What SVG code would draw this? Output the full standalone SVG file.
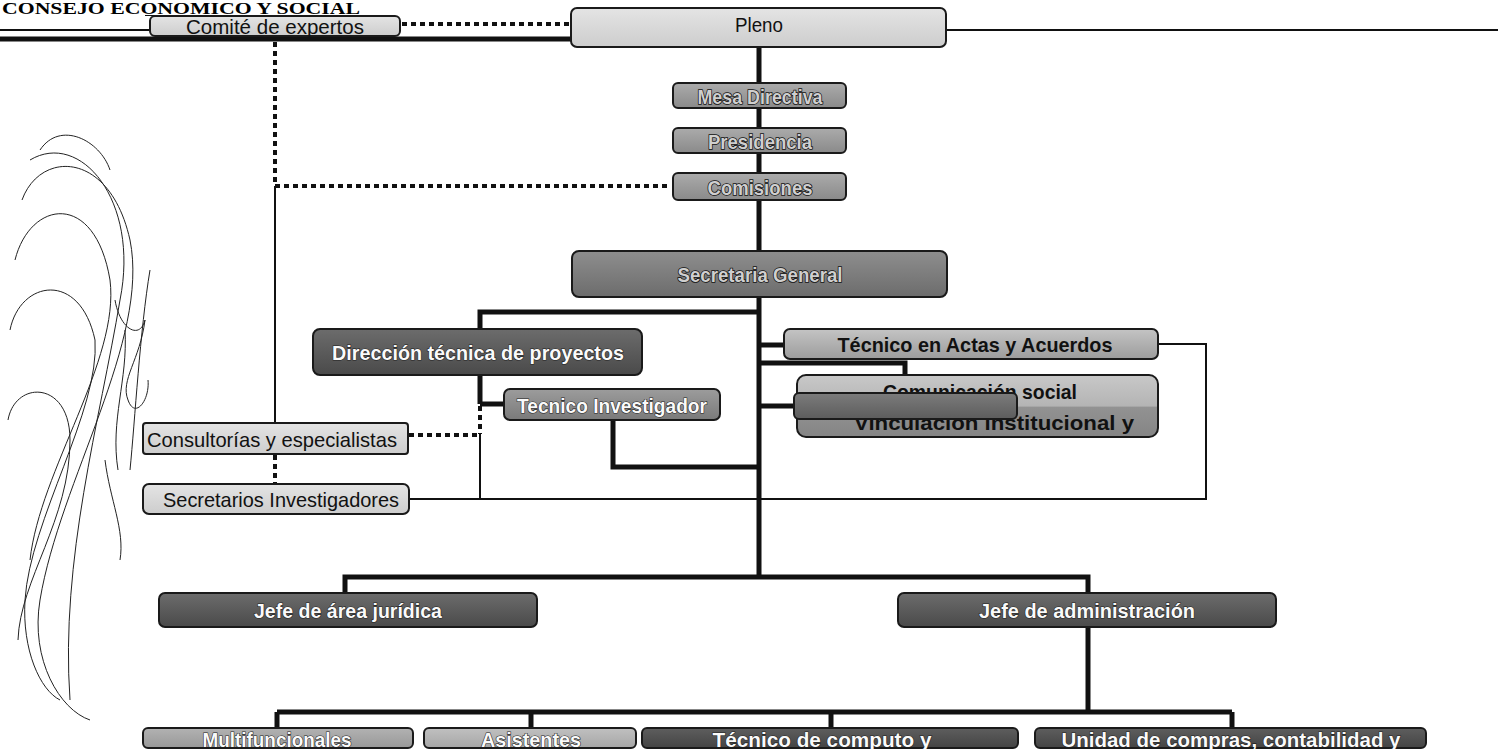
<svg xmlns="http://www.w3.org/2000/svg" width="1498" height="749" viewBox="0 0 1498 749">
<defs>
<linearGradient id="gLight" x1="0" y1="0" x2="0" y2="1"><stop offset="0" stop-color="#e4e4e4"/><stop offset="1" stop-color="#cdcdcd"/></linearGradient>
<linearGradient id="gMid" x1="0" y1="0" x2="0" y2="1"><stop offset="0" stop-color="#ababab"/><stop offset="1" stop-color="#8a8a8a"/></linearGradient>
<linearGradient id="gSG" x1="0" y1="0" x2="0" y2="1"><stop offset="0" stop-color="#8e8e8e"/><stop offset="1" stop-color="#6c6c6c"/></linearGradient>
<linearGradient id="gDark" x1="0" y1="0" x2="0" y2="1"><stop offset="0" stop-color="#6c6c6c"/><stop offset="1" stop-color="#4a4a4a"/></linearGradient>
<linearGradient id="gTI" x1="0" y1="0" x2="0" y2="1"><stop offset="0" stop-color="#9c9c9c"/><stop offset="1" stop-color="#7a7a7a"/></linearGradient>
<linearGradient id="gActas" x1="0" y1="0" x2="0" y2="1"><stop offset="0" stop-color="#c4c4c4"/><stop offset="1" stop-color="#9c9c9c"/></linearGradient>
<linearGradient id="gComm" x1="0" y1="0" x2="0" y2="1"><stop offset="0" stop-color="#c8c8c8"/><stop offset="0.5" stop-color="#b4b4b4"/><stop offset="0.52" stop-color="#929292"/><stop offset="1" stop-color="#858585"/></linearGradient>
<linearGradient id="gSmall" x1="0" y1="0" x2="0" y2="1"><stop offset="0" stop-color="#7c7c7c"/><stop offset="1" stop-color="#5c5c5c"/></linearGradient>
<linearGradient id="gBotMid" x1="0" y1="0" x2="0" y2="1"><stop offset="0" stop-color="#b2b2b2"/><stop offset="1" stop-color="#989898"/></linearGradient>
<linearGradient id="gBotLight" x1="0" y1="0" x2="0" y2="1"><stop offset="0" stop-color="#c0c0c0"/><stop offset="1" stop-color="#a6a6a6"/></linearGradient>
<linearGradient id="gBotDark" x1="0" y1="0" x2="0" y2="1"><stop offset="0" stop-color="#5e5e5e"/><stop offset="1" stop-color="#444444"/></linearGradient>
</defs>
<style>
.box{stroke:#1a1a1a;stroke-width:2}
.lbl{font-family:"Liberation Sans Narrow","Liberation Sans",Arial,sans-serif;font-size:21px;text-anchor:middle;dominant-baseline:central}
.dk{fill:#111}
.ol{fill:#cfcfcf;stroke:#111;stroke-width:1.6;paint-order:stroke;font-weight:bold}
.wh{fill:#fafafa;stroke:#222;stroke-width:1.2;paint-order:stroke;font-weight:bold}
.bd{font-weight:bold}
.thick{stroke:#111;stroke-width:5;fill:none}
.thin{stroke:#111;stroke-width:2;fill:none}
.dot{stroke:#111;stroke-width:4;stroke-dasharray:5 4;fill:none}
.sig{stroke:#222;stroke-width:1;fill:none}
</style>
<rect width="1498" height="749" fill="#ffffff"/>

<g id="title">
<text x="2" y="14" font-family="Liberation Serif,serif" font-weight="bold" font-size="16" textLength="358" lengthAdjust="spacingAndGlyphs">CONSEJO ECONOMICO Y SOCIAL</text>
<line x1="145" y1="15.5" x2="361" y2="15.5" stroke="#111" stroke-width="1.2"/>
</g>

<g id="connectors">
<line class="thin" x1="0" y1="30" x2="150" y2="30"/>
<line class="thick" x1="0" y1="39" x2="571" y2="39"/>
<line class="thin" x1="946" y1="30" x2="1498" y2="30"/>
<line class="dot" x1="402" y1="24" x2="570" y2="24"/>
<line class="thick" x1="759" y1="47" x2="759" y2="577"/>
<line class="dot" x1="275" y1="42" x2="275" y2="186"/>
<line class="dot" x1="275" y1="186" x2="671" y2="186"/>
<line class="thin" x1="275" y1="186" x2="275" y2="423"/>
<line class="dot" x1="275" y1="455" x2="275" y2="484"/>
<polyline class="thick" points="759,312 480,312 480,330"/>
<line class="thick" x1="480" y1="375" x2="480" y2="404"/>
<line class="thick" x1="480" y1="404" x2="504" y2="404"/>
<line class="dot" x1="480" y1="406" x2="480" y2="434"/>
<line class="dot" x1="409" y1="435" x2="478" y2="435"/>
<line class="thin" x1="480" y1="434" x2="480" y2="499"/>
<polyline class="thick" points="613,420 613,467 759,467"/>
<line class="thick" x1="759" y1="345" x2="784" y2="345"/>
<polyline class="thick" points="759,363 905,363 905,376"/>
<line class="thick" x1="759" y1="406" x2="794" y2="406"/>
<polyline class="thin" points="1158,344 1206,344 1206,499 409,499"/>
<polyline class="thick" points="345,593 345,577 1088,577 1088,593"/>
<line class="thick" x1="1088" y1="627" x2="1088" y2="712"/>
<line class="thick" x1="277" y1="712" x2="1232" y2="712"/>
<line class="thick" x1="277" y1="712" x2="277" y2="728"/>
<line class="thick" x1="531" y1="712" x2="531" y2="728"/>
<line class="thick" x1="831" y1="712" x2="831" y2="728"/>
<line class="thick" x1="1232" y1="712" x2="1232" y2="728"/>
</g>

<g id="signature">
<path class="sig" d="M30,160 C80,130 140,200 120,300 C100,420 60,560 70,700 M22,200 C40,150 110,150 130,240 C150,340 60,480 40,600 C30,660 60,710 90,720 M15,260 C30,200 95,190 110,280 C120,360 40,470 30,560 M10,330 C20,280 80,270 95,340 C100,410 30,520 25,600 C22,650 40,690 60,700 M40,150 C60,120 100,140 110,170 M8,420 C15,380 70,380 70,440 C70,520 20,580 18,640"/>
<path class="sig" d="M150,270 C140,330 135,420 130,470 M115,300 C120,330 140,340 145,320 C140,360 120,380 128,400 C135,420 150,400 148,380 M105,460 C110,500 125,530 120,560 M125,330 C128,380 110,420 118,470"/>
</g>

<g id="n-comite"><rect class="box" x="150" y="16" width="250" height="20" rx="5" fill="url(#gLight)"/><text class="lbl dk" x="275" y="26" font-size="19" textLength="178" lengthAdjust="spacingAndGlyphs">Comité de expertos</text></g>
<g id="n-pleno"><rect class="box" x="571" y="8" width="375" height="39" rx="6" fill="url(#gLight)"/><text class="lbl dk" x="759" y="24" font-size="20" textLength="48" lengthAdjust="spacingAndGlyphs">Pleno</text></g>
<g id="n-mesa"><rect class="box" x="673" y="83" width="173" height="25" rx="5" fill="url(#gMid)"/><text class="lbl ol" x="760" y="96" font-size="22" textLength="125" lengthAdjust="spacingAndGlyphs">Mesa Directiva</text></g>
<g id="n-presidencia"><rect class="box" x="673" y="128" width="173" height="25" rx="5" fill="url(#gMid)"/><text class="lbl ol" x="760" y="141" font-size="22" textLength="104" lengthAdjust="spacingAndGlyphs">Presidencia</text></g>
<g id="n-comisiones"><rect class="box" x="673" y="173" width="173" height="27" rx="5" fill="url(#gMid)"/><text class="lbl ol" x="760" y="187" font-size="22" textLength="105" lengthAdjust="spacingAndGlyphs">Comisiones</text></g>
<g id="n-sg"><rect class="box" x="572" y="251" width="375" height="46" rx="7" fill="url(#gSG)"/><text class="lbl ol" x="760" y="274" font-size="23" textLength="165" lengthAdjust="spacingAndGlyphs">Secretaria General</text></g>
<g id="n-direccion"><rect class="box" x="313" y="329" width="329" height="46" rx="7" fill="url(#gDark)"/><text class="lbl wh" x="478" y="352" font-size="21" textLength="292" lengthAdjust="spacingAndGlyphs">Dirección técnica de proyectos</text></g>
<g id="n-tecinv"><rect class="box" x="504" y="389" width="216" height="31" rx="6" fill="url(#gTI)"/><text class="lbl wh" x="612" y="405" textLength="190" lengthAdjust="spacingAndGlyphs">Tecnico Investigador</text></g>
<g id="n-actas"><rect class="box" x="784" y="329" width="374" height="30" rx="6" fill="url(#gActas)"/><text class="lbl dk bd" x="975" y="344" textLength="275" lengthAdjust="spacingAndGlyphs">Técnico en Actas y Acuerdos</text></g>
<g id="n-comunicacion"><rect class="box" x="797" y="375" width="361" height="62" rx="9" fill="url(#gComm)"/>
<text class="dk bd" x="980" y="399" font-family="Liberation Sans Narrow,Liberation Sans,Arial,sans-serif" font-size="21" text-anchor="middle" textLength="194" lengthAdjust="spacingAndGlyphs">Comunicación social</text>
<text class="dk bd" x="994" y="430" font-family="Liberation Sans Narrow,Liberation Sans,Arial,sans-serif" font-size="21" text-anchor="middle" textLength="280" lengthAdjust="spacingAndGlyphs">Vinculación institucional y</text></g>
<g id="n-small"><rect class="box" x="794" y="393" width="223" height="26" rx="5" fill="url(#gSmall)"/></g>
<g id="n-consultorias"><rect class="box" x="143" y="423" width="265" height="31" rx="3" fill="url(#gLight)"/><text class="lbl dk" x="272" y="439" font-size="22" textLength="250" lengthAdjust="spacingAndGlyphs">Consultorías y especialistas</text></g>
<g id="n-secretarios"><rect class="box" x="143" y="484" width="266" height="30" rx="6" fill="url(#gLight)"/><text class="lbl dk" x="281" y="499" font-size="22" textLength="236" lengthAdjust="spacingAndGlyphs">Secretarios Investigadores</text></g>
<g id="n-juridica"><rect class="box" x="159" y="593" width="378" height="34" rx="6" fill="url(#gDark)"/><text class="lbl wh" x="348" y="610" font-size="22" textLength="188" lengthAdjust="spacingAndGlyphs">Jefe de área jurídica</text></g>
<g id="n-admin"><rect class="box" x="898" y="593" width="378" height="34" rx="6" fill="url(#gDark)"/><text class="lbl wh" x="1087" y="610" font-size="22" textLength="216" lengthAdjust="spacingAndGlyphs">Jefe de administración</text></g>
<g id="n-multi"><rect class="box" x="143" y="728" width="270" height="20" rx="5" fill="url(#gBotMid)"/><text class="lbl wh" x="277" y="739" textLength="149" lengthAdjust="spacingAndGlyphs">Multifuncionales</text></g>
<g id="n-asist"><rect class="box" x="424" y="728" width="212" height="20" rx="5" fill="url(#gBotLight)"/><text class="lbl wh" x="531" y="739" textLength="100" lengthAdjust="spacingAndGlyphs">Asistentes</text></g>
<g id="n-computo"><rect class="box" x="642" y="728" width="376" height="20" rx="5" fill="url(#gBotDark)"/><text class="lbl wh" x="822" y="739" textLength="219" lengthAdjust="spacingAndGlyphs">Técnico de computo y</text></g>
<g id="n-unidad"><rect class="box" x="1035" y="728" width="391" height="20" rx="5" fill="url(#gBotDark)"/><text class="lbl wh" x="1231" y="739" textLength="339" lengthAdjust="spacingAndGlyphs">Unidad de compras, contabilidad y</text></g>
</svg>
